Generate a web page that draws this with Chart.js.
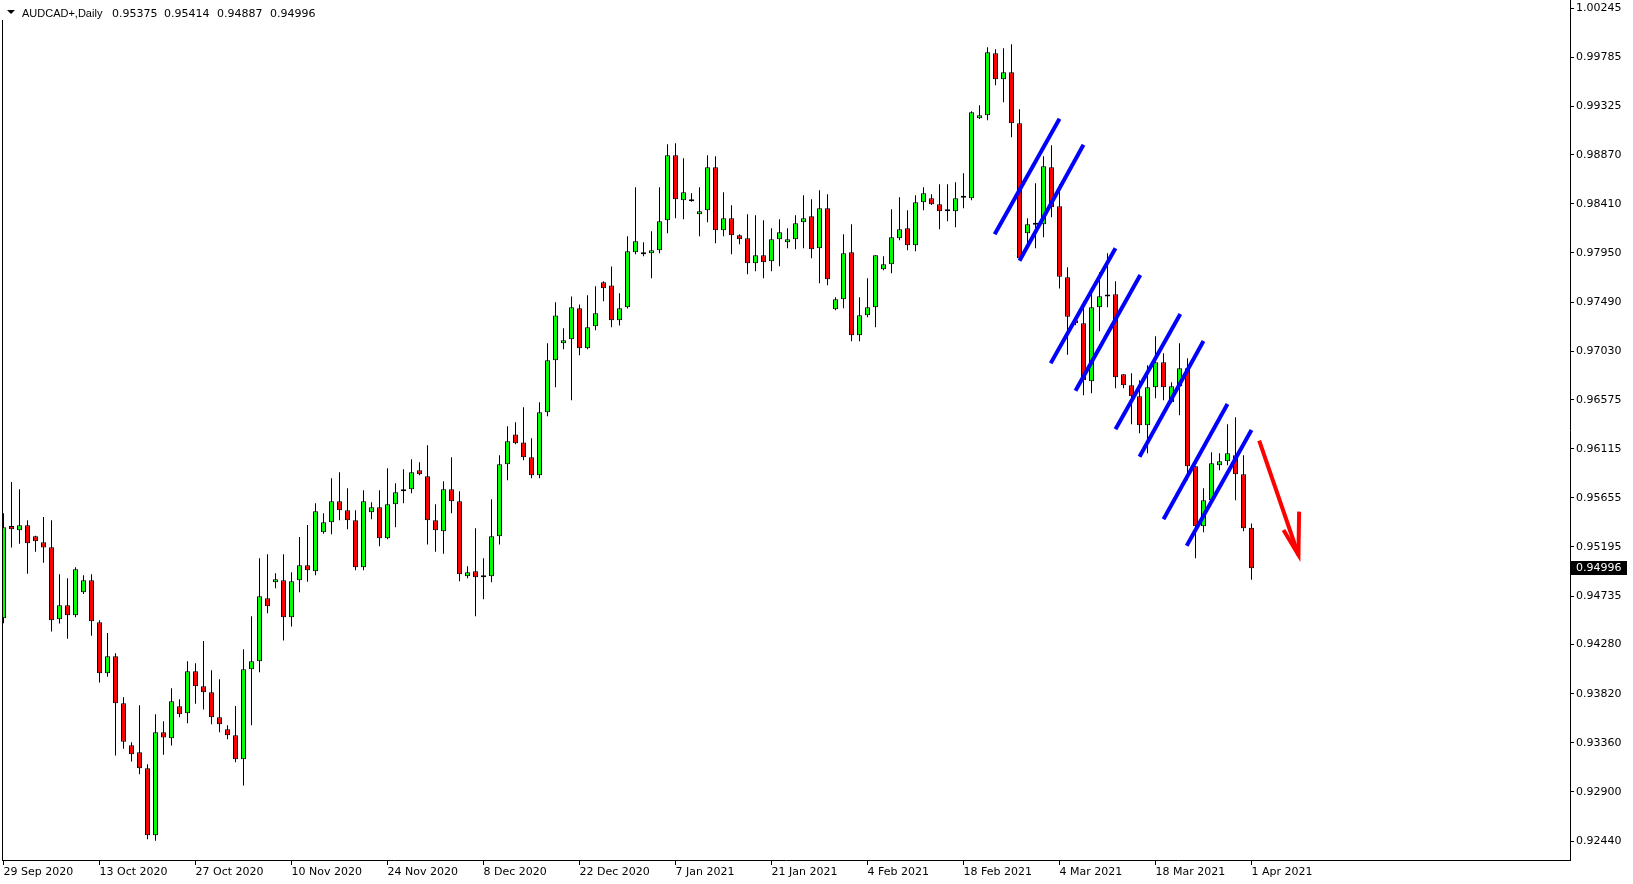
<!DOCTYPE html>
<html>
<head>
<meta charset="utf-8">
<title>AUDCAD+,Daily</title>
<script src="https://cdn.jsdelivr.net/npm/chart.js@4.4.1/dist/chart.umd.min.js"></script>
<style>
  html, body { margin: 0; padding: 0; background: #fff; overflow: hidden; }
  #wrap { position: relative; width: 1633px; height: 884px; }
</style>
</head>
<body>
<div id="wrap"><canvas id="chart"></canvas></div>
<script>
// Daily bars, 29 Sep 2020 .. 1 Apr 2021 (broker has Sunday bars, so 6 per week)
const symbol = 'AUDCAD+,Daily';

const opens = [
  0.94527, 0.95392, 0.95351, 0.95398, 0.95295, 0.95239, 0.95192, 0.94517, 0.94648, 0.94555,
  0.94770, 0.94883, 0.94489, 0.94011, 0.94171, 0.93730, 0.93337, 0.93271, 0.93121, 0.92494,
  0.93458, 0.93402, 0.93702, 0.93637, 0.94030, 0.93890, 0.93833, 0.93599, 0.93487, 0.93431,
  0.93206, 0.94049, 0.94124, 0.94714, 0.94864, 0.94883, 0.94536, 0.94883, 0.95023, 0.94967,
  0.95333, 0.95426, 0.95623, 0.95539, 0.95445, 0.95005, 0.95520, 0.95567, 0.95276, 0.95595,
  0.95717, 0.95735, 0.95913, 0.95857, 0.95445, 0.95342, 0.95735, 0.95623, 0.94920, 0.94967,
  0.94911, 0.94920, 0.95295, 0.95969, 0.96250, 0.96175, 0.96035, 0.95866, 0.96457, 0.96944,
  0.97103, 0.97141, 0.97431, 0.97056, 0.97262, 0.97675, 0.97646, 0.97319, 0.97441, 0.97956,
  0.97956, 0.97946, 0.97975, 0.98256, 0.98865, 0.98443, 0.98452, 0.98312, 0.98349, 0.98752,
  0.98162, 0.98274, 0.98115, 0.98087, 0.97853, 0.97928, 0.97872, 0.98078, 0.98050, 0.98078,
  0.98237, 0.98293, 0.97993, 0.98368, 0.97422, 0.97516, 0.97956, 0.97178, 0.97366, 0.97441,
  0.97797, 0.97844, 0.98087, 0.98181, 0.98022, 0.98424, 0.98462, 0.98406, 0.98340, 0.98340,
  0.98468, 0.98462, 0.99211, 0.99240, 0.99820, 0.99577, 0.99642, 0.99165, 0.98134, 0.98218,
  0.98218, 0.98752, 0.98387, 0.97722, 0.97319, 0.97291, 0.96748, 0.97441, 0.97544, 0.97563,
  0.96813, 0.96710, 0.96607, 0.96335, 0.96691, 0.96925, 0.96551, 0.96701, 0.96869, 0.95951,
  0.95389, 0.95633, 0.95960, 0.95999, 0.96054, 0.95876, 0.95375
];
const highs = [
  0.95510, 0.95804, 0.95735, 0.95445, 0.95300, 0.95476, 0.95445, 0.94939, 0.94901, 0.95004,
  0.94929, 0.94939, 0.94508, 0.94389, 0.94199, 0.93786, 0.93365, 0.93711, 0.93159, 0.93627,
  0.93562, 0.93871, 0.93768, 0.94124, 0.94105, 0.94314, 0.94040, 0.93955, 0.93524, 0.93705,
  0.94236, 0.94546, 0.95089, 0.95126, 0.94948, 0.95126, 0.94958, 0.95289, 0.95401, 0.95604,
  0.95511, 0.95838, 0.95895, 0.95745, 0.95539, 0.95726, 0.95614, 0.95726, 0.95932, 0.95792,
  0.95923, 0.96016, 0.95988, 0.96147, 0.95595, 0.95810, 0.96035, 0.95716, 0.95014, 0.95370,
  0.95089, 0.95641, 0.96054, 0.96325, 0.96363, 0.96503, 0.96213, 0.96550, 0.97103, 0.97487,
  0.97244, 0.97543, 0.97468, 0.97553, 0.97637, 0.97684, 0.97824, 0.97572, 0.98106, 0.98565,
  0.98050, 0.98153, 0.98565, 0.98968, 0.98977, 0.98837, 0.98509, 0.98565, 0.98865, 0.98855,
  0.98518, 0.98396, 0.98124, 0.98312, 0.98302, 0.98256, 0.98181, 0.98265, 0.98181, 0.98302,
  0.98490, 0.98452, 0.98537, 0.98499, 0.97534, 0.98125, 0.98218, 0.97534, 0.97712, 0.97928,
  0.97918, 0.98359, 0.98471, 0.98349, 0.98490, 0.98565, 0.98499, 0.98593, 0.98593, 0.98612,
  0.98696, 0.99277, 0.99333, 0.99877, 0.99858, 0.99867, 0.99905, 0.99296, 0.98275, 0.98602,
  0.98855, 0.98958, 0.98593, 0.97816, 0.97328, 0.97497, 0.97572, 0.97769, 0.97947, 0.97684,
  0.96813, 0.96822, 0.96757, 0.96897, 0.97169, 0.97010, 0.96738, 0.97103, 0.96963, 0.95951,
  0.95745, 0.96082, 0.96073, 0.96345, 0.96410, 0.96054, 0.95414
];
const lows = [
  0.94480, 0.95189, 0.95226, 0.94945, 0.95151, 0.95048, 0.94402, 0.94477, 0.94336, 0.94536,
  0.94755, 0.94364, 0.93924, 0.93980, 0.93240, 0.93305, 0.93184, 0.93065, 0.92456, 0.92443,
  0.93249, 0.93334, 0.93599, 0.93543, 0.93727, 0.93671, 0.93534, 0.93459, 0.93393, 0.93178,
  0.92959, 0.93524, 0.94021, 0.94574, 0.94808, 0.94318, 0.94449, 0.94770, 0.94870, 0.94930,
  0.95320, 0.95314, 0.95445, 0.95361, 0.94977, 0.94977, 0.95454, 0.95201, 0.95267, 0.95379,
  0.95604, 0.95698, 0.95866, 0.95217, 0.95151, 0.95132, 0.95510, 0.94873, 0.94901, 0.94545,
  0.94705, 0.94864, 0.95217, 0.95819, 0.96157, 0.96007, 0.95838, 0.95838, 0.96419, 0.96691,
  0.97047, 0.96569, 0.96991, 0.97047, 0.97225, 0.97497, 0.97253, 0.97269, 0.97430, 0.97937,
  0.97918, 0.97712, 0.97946, 0.98134, 0.98274, 0.98265, 0.98430, 0.98106, 0.98237, 0.98040,
  0.98106, 0.97937, 0.98031, 0.97750, 0.97778, 0.97712, 0.97778, 0.97825, 0.97993, 0.97984,
  0.97993, 0.97900, 0.97665, 0.97647, 0.97413, 0.97431, 0.97122, 0.97122, 0.97347, 0.97253,
  0.97787, 0.97759, 0.98068, 0.97975, 0.97965, 0.98349, 0.98400, 0.98171, 0.98246, 0.98190,
  0.98368, 0.98443, 0.99205, 0.99193, 0.99521, 0.99361, 0.99033, 0.97881, 0.98031, 0.97993,
  0.98096, 0.98284, 0.97616, 0.96997, 0.97272, 0.96616, 0.96635, 0.97216, 0.97441, 0.96682,
  0.96682, 0.96345, 0.96260, 0.96073, 0.96588, 0.96569, 0.96541, 0.96429, 0.95820, 0.95089,
  0.95333, 0.95614, 0.95914, 0.95960, 0.95633, 0.95342, 0.94887
];
const closes = [
  0.95379, 0.95360, 0.95398, 0.95229, 0.95248, 0.95189, 0.94508, 0.94648, 0.94555, 0.94986,
  0.94883, 0.94498, 0.94011, 0.94171, 0.93730, 0.93371, 0.93252, 0.93121, 0.92494, 0.93458,
  0.93409, 0.93749, 0.93627, 0.94030, 0.93889, 0.93833, 0.93599, 0.93534, 0.93431, 0.93206,
  0.94049, 0.94124, 0.94733, 0.94639, 0.94892, 0.94536, 0.94874, 0.95023, 0.94977, 0.95529,
  0.95426, 0.95623, 0.95539, 0.95445, 0.95005, 0.95623, 0.95567, 0.95276, 0.95595, 0.95707,
  0.95735, 0.95894, 0.95876, 0.95445, 0.95351, 0.95735, 0.95623, 0.94939, 0.94958, 0.94911,
  0.94930, 0.95295, 0.95969, 0.96185, 0.96166, 0.96035, 0.95866, 0.96457, 0.96944, 0.97365,
  0.97131, 0.97440, 0.97056, 0.97253, 0.97384, 0.97618, 0.97319, 0.97431, 0.97965, 0.98059,
  0.97937, 0.97975, 0.98246, 0.98865, 0.98452, 0.98518, 0.98434, 0.98340, 0.98752, 0.98162,
  0.98274, 0.98115, 0.98078, 0.97853, 0.97928, 0.97862, 0.98078, 0.98143, 0.98078, 0.98228,
  0.98274, 0.97984, 0.98368, 0.97703, 0.97516, 0.97947, 0.97178, 0.97366, 0.97441, 0.97928,
  0.97844, 0.98096, 0.98171, 0.98022, 0.98424, 0.98509, 0.98406, 0.98340, 0.98343, 0.98462,
  0.98471, 0.99268, 0.99240, 0.99830, 0.99577, 0.99642, 0.99165, 0.97900, 0.98218, 0.98215,
  0.98762, 0.98377, 0.97728, 0.97353, 0.97291, 0.96757, 0.97441, 0.97544, 0.97541, 0.96785,
  0.96710, 0.96607, 0.96335, 0.96691, 0.96925, 0.96691, 0.96701, 0.96869, 0.95951, 0.95389,
  0.95633, 0.95979, 0.95999, 0.96073, 0.95876, 0.95370, 0.94996
];

// time axis labels (bar index -> text)
const dateTickIdx = [0, 12, 24, 36, 48, 60, 72, 84, 96, 108, 120, 132, 144, 156];
const dateTickLabels = [
  '29 Sep 2020', '13 Oct 2020', '27 Oct 2020', '10 Nov 2020', '24 Nov 2020', '8 Dec 2020',
  '22 Dec 2020', '7 Jan 2021', '21 Jan 2021', '4 Feb 2021', '18 Feb 2021', '4 Mar 2021',
  '18 Mar 2021', '1 Apr 2021'
];

// price scale labels
const priceTicks = [
  1.00245, 0.99785, 0.99325, 0.98870, 0.98410, 0.97950, 0.97490, 0.97030, 0.96575,
  0.96115, 0.95655, 0.95195, 0.94735, 0.94280, 0.93820, 0.93360, 0.92900, 0.92440
];

// blue channel trendlines (bar index / price at both ends)
const channelStartIdx = [123.9, 127.0, 130.9, 134.0, 139.0, 142.0, 145.0, 147.9];
const channelStartPrice = [0.98125, 0.97877, 0.96916, 0.96659, 0.96298, 0.96041, 0.95454, 0.95207];
const channelEndIdx = [132.0, 135.0, 139.0, 142.1, 147.1, 150.0, 153.0, 156.0];
const channelEndPrice = [0.99208, 0.98963, 0.97994, 0.97743, 0.97378, 0.97125, 0.96535, 0.96291];

// red arrow: shaft and head
const arrowIdx = [156.96, 161.87];
const arrowPrice = [0.96191, 0.95120];
const arrowHeadIdx = [160.0, 161.87, 161.95];
const arrowHeadPrice = [0.95354, 0.95120, 0.95526];

const BULL = '#00ff00';
const BEAR = '#ff0000';

Chart.defaults.font.family = '"DejaVu Sans", sans-serif';
Chart.defaults.font.size = 11;
Chart.defaults.color = '#000';

const barColors = opens.map((o, i) => closes[i] >= o ? BULL : BEAR);

const datasets = [];

// candle bodies (drawn on top of wicks)
datasets.push({
  type: 'bar',
  data: opens.map((o, i) => ({ x: i, y: [o, closes[i]] })),
  backgroundColor: barColors,
  borderColor: '#000',
  borderWidth: 1,
  borderSkipped: false,
  barThickness: 5,
  minBarLength: 2,
  inflateAmount: 0,
  grouped: false,
  order: 1
});

// wicks
datasets.push({
  type: 'bar',
  data: lows.map((l, i) => ({ x: i, y: [l, highs[i]] })),
  backgroundColor: '#000',
  borderWidth: 0,
  barThickness: 1,
  inflateAmount: 0,
  grouped: false,
  order: 2
});

channelStartIdx.forEach((s, k) => {
  datasets.push({
    type: 'line',
    data: [
      { x: s, y: channelStartPrice[k] },
      { x: channelEndIdx[k], y: channelEndPrice[k] }
    ],
    borderColor: '#0000ff',
    borderWidth: 4,
    pointRadius: 0,
    tension: 0,
    fill: false,
    order: 0
  });
});

datasets.push({
  type: 'line',
  data: arrowIdx.map((x, k) => ({ x: x, y: arrowPrice[k] })),
  borderColor: '#ff0000',
  borderWidth: 4,
  pointRadius: 0,
  tension: 0,
  fill: false,
  order: 0
});
datasets.push({
  type: 'line',
  data: arrowHeadIdx.map((x, k) => ({ x: x, y: arrowHeadPrice[k] })),
  borderColor: '#ff0000',
  borderWidth: 4,
  pointRadius: 0,
  tension: 0,
  fill: false,
  order: 0
});

// frame, title line and current price marker
const overlay = {
  id: 'overlay',
  afterDraw(chart) {
    const ctx = chart.ctx;
    const area = chart.chartArea;
    const yScale = chart.scales.y;
    ctx.save();

    ctx.strokeStyle = '#000';
    ctx.lineWidth = 1;
    ctx.beginPath();
    ctx.moveTo(area.left + 0.5, area.top);
    ctx.lineTo(area.left + 0.5, area.bottom);
    ctx.stroke();

    ctx.fillStyle = '#fff';
    ctx.fillRect(0, 0, 312, 20);

    ctx.fillStyle = '#000';
    ctx.beginPath();
    ctx.moveTo(7, 10);
    ctx.lineTo(15, 10);
    ctx.lineTo(11, 14);
    ctx.closePath();
    ctx.fill();

    const n = closes.length - 1;
    ctx.textBaseline = 'alphabetic';
    ctx.textAlign = 'left';
    ctx.font = '11px "Liberation Sans", sans-serif';
    ctx.fillText(symbol, 22, 17);
    ctx.font = '11px "DejaVu Sans", sans-serif';
    const ohlc = [opens[n], highs[n], lows[n], closes[n]];
    const ohlcX = [112, 164, 217, 270];
    ohlc.forEach((v, k) => ctx.fillText(v.toFixed(5), ohlcX[k], 17));

    const last = closes[n];
    const y = yScale.getPixelForValue(last);
    ctx.fillStyle = '#000';
    ctx.fillRect(area.right + 1, Math.round(y) - 7, 56, 14);
    ctx.fillStyle = '#fff';
    ctx.textBaseline = 'middle';
    ctx.fillText(last.toFixed(5), area.right + 6, Math.round(y));

    ctx.restore();
  }
};

new Chart(document.getElementById('chart'), {
  type: 'bar',
  data: { datasets: datasets },
  options: {
    responsive: true,
    maintainAspectRatio: false,
    animation: false,
    events: [],
    layout: { padding: { left: 2, top: 0, right: 0, bottom: 0 } },
    plugins: {
      legend: { display: false },
      tooltip: { enabled: false },
      title: { display: false }
    },
    scales: {
      x: {
        type: 'linear',
        min: -0.1875,
        max: 195.8125,
        offset: false,
        bounds: 'data',
        grid: { display: true, drawOnChartArea: false, drawTicks: true, tickLength: 5, color: '#000', offset: false },
        border: { display: true, color: '#000', width: 1 },
        ticks: {
          autoSkip: false,
          maxRotation: 0,
          minRotation: 0,
          align: 'start',
          padding: 1,
          callback: function(value) {
            const k = dateTickIdx.indexOf(value);
            return k >= 0 ? dateTickLabels[k] : '';
          }
        },
        afterBuildTicks: function(scale) {
          scale.ticks = dateTickIdx.map(v => ({ value: v }));
        },
        afterFit: function(scale) {
          scale.height = 24;
          scale.paddingLeft = 0;
          scale.paddingRight = 0;
        }
      },
      y: {
        type: 'linear',
        position: 'right',
        min: 0.92262,
        max: 1.00320,
        bounds: 'data',
        grid: { display: true, drawOnChartArea: false, drawTicks: true, tickLength: 4, color: '#000' },
        border: { display: true, color: '#000', width: 1 },
        ticks: {
          autoSkip: false,
          padding: 2,
          callback: function(value) {
            return value.toFixed(5);
          }
        },
        afterBuildTicks: function(scale) {
          scale.ticks = priceTicks.map(v => ({ value: v }));
        },
        afterFit: function(scale) {
          scale.width = 63;
          scale.paddingTop = 0;
          scale.paddingBottom = 0;
        }
      }
    }
  },
  plugins: [overlay]
});
</script>
</body>
</html>
